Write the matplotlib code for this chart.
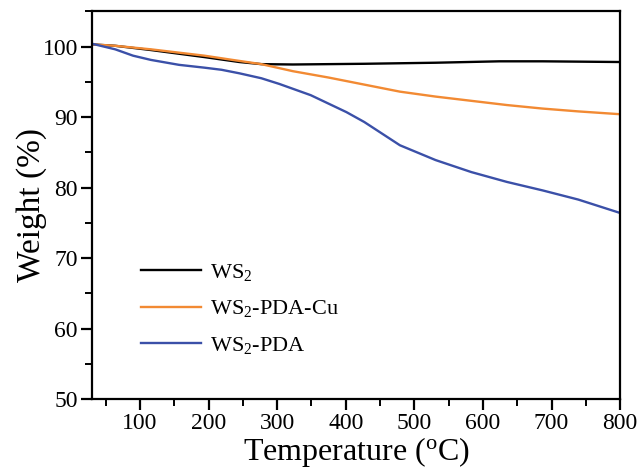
import matplotlib
matplotlib.use("Agg")
import matplotlib.pyplot as plt
from matplotlib.ticker import MultipleLocator

plt.rcParams["font.family"] = "Liberation Serif"
plt.rcParams["mathtext.fontset"] = "custom"
plt.rcParams["mathtext.rm"] = "Liberation Serif"
plt.rcParams["mathtext.it"] = "Liberation Serif:italic"

# TGA curves
temp_ws2 = [30, 64, 116, 194, 245, 277, 323, 427, 531, 624, 687, 800]
weight_ws2 = [100.3, 100.1, 99.5, 98.5, 97.8, 97.5, 97.45, 97.55, 97.7, 97.9, 97.9, 97.8]

temp_cu = [30, 64, 116, 194, 235, 277, 323, 375, 427, 479, 531, 583, 635, 687, 739, 800]
weight_cu = [100.3, 100.1, 99.6, 98.7, 98.1, 97.5, 96.5, 95.6, 94.6, 93.6, 92.9, 92.3, 91.7, 91.2, 90.8, 90.4]

temp_pda = [30, 64, 90, 116, 157, 194, 219, 245, 277, 303, 349, 401, 427, 479, 531, 583, 635, 687, 739, 800]
weight_pda = [100.4, 99.6, 98.7, 98.1, 97.4, 97.0, 96.7, 96.2, 95.5, 94.7, 93.1, 90.7, 89.3, 86.0, 83.9, 82.2, 80.8, 79.6, 78.3, 76.4]

fig = plt.figure(figsize=(6.38, 4.68), dpi=100)
ax = fig.add_axes([0.144, 0.147, 0.828, 0.829])

ax.plot(temp_ws2, weight_ws2, color="black", lw=1.7, label="WS$_2$")
ax.plot(temp_cu, weight_cu, color="#f28a33", lw=1.7, label="WS$_2$-PDA-Cu")
ax.plot(temp_pda, weight_pda, color="#3b50a8", lw=1.7, label="WS$_2$-PDA")

ax.set_xlim(30, 800)
ax.set_ylim(50, 105)
ax.xaxis.set_major_locator(MultipleLocator(100))
ax.xaxis.set_minor_locator(MultipleLocator(50))
ax.yaxis.set_major_locator(MultipleLocator(10))
ax.yaxis.set_minor_locator(MultipleLocator(5))
ax.tick_params(which="major", direction="out", length=8, width=1.6, labelsize=17, pad=2)
ax.tick_params(which="minor", direction="out", length=5, width=1.4)
for s in ax.spines.values():
    s.set_linewidth(1.6)

ax.set_xlabel("Temperature ($^{\\mathrm{o}}$C)", fontsize=23, labelpad=1)
ax.set_ylabel("Weight (%)", fontsize=24, labelpad=-3)

ax.legend(loc="lower left", bbox_to_anchor=(0.055, 0.06), frameon=False, fontsize=16,
          handlelength=2.7, handletextpad=0.4, labelspacing=0.7)

fig.savefig("out.png", dpi=100)
